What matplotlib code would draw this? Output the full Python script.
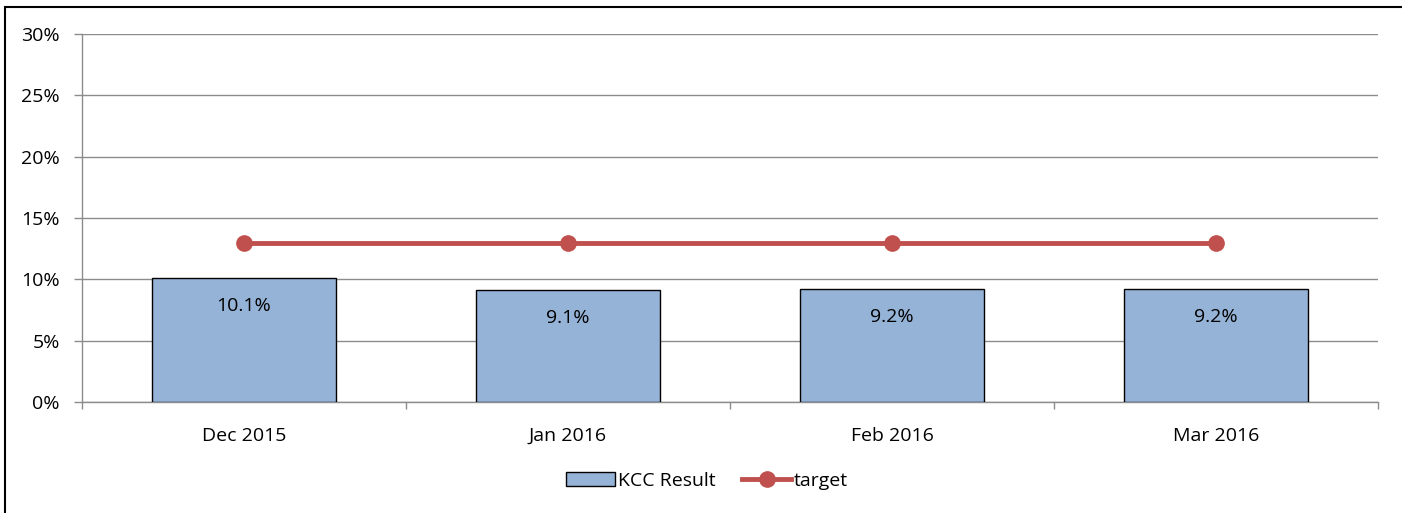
import matplotlib
matplotlib.use("Agg")
import matplotlib.pyplot as plt
from matplotlib.patches import Rectangle
from matplotlib.lines import Line2D
import numpy as np

# data
months = ["Dec 2015", "Jan 2016", "Feb 2016", "Mar 2016"]
kcc_result = [10.1, 9.1, 9.2, 9.2]
target = [13, 13, 13, 13]
y_ticks = [0, 5, 10, 15, 20, 25, 30]

CLR_BAR = "#95B3D7"
CLR_LINE = "#C0504D"
CLR_GRID = "#8C8C8C"
FS = 14

plt.rcParams["font.family"] = ["Open Sans", "DejaVu Sans"]

fig = plt.figure(figsize=(14.02, 5.13), dpi=100)
ax = fig.add_axes([82 / 1402, 111 / 513, 1296 / 1402, 368 / 513])

x = np.arange(len(months))
ax.bar(x, kcc_result, width=0.57, color=CLR_BAR, edgecolor="black",
       linewidth=1.0, zorder=3)
ax.plot(x, target, color=CLR_LINE, linewidth=3.5, marker="o",
        markersize=11, zorder=4)

for xi, v in zip(x, kcc_result):
    ax.annotate(f"{v:.1f}%", (xi, v), xytext=(0, -20), textcoords="offset points",
                ha="center", va="center", fontsize=FS, color="black", zorder=5)

ax.set_xlim(-0.5, len(months) - 0.5)
ax.set_ylim(0, 30)
ax.set_yticks(y_ticks)
ax.set_yticklabels([f"{t}%" for t in y_ticks], fontsize=FS)
ax.yaxis.grid(True, color=CLR_GRID, linewidth=1.0, zorder=0)
ax.set_axisbelow(True)

# category ticks between groups, labels centred under bars
ax.set_xticks(np.arange(-0.5, len(months), 1.0))
ax.set_xticklabels([])
ax.set_xticks(x, minor=True)
ax.set_xticklabels(months, minor=True, fontsize=FS, va="baseline")
ax.tick_params(axis="x", which="minor", length=0, pad=28)
ax.tick_params(axis="x", which="major", length=5, color=CLR_GRID, width=1)
ax.tick_params(axis="y", length=6, color=CLR_GRID, width=1, pad=10)

for side in ["top", "right"]:
    ax.spines[side].set_visible(False)
for side in ["left", "bottom"]:
    ax.spines[side].set_color(CLR_GRID)
    ax.spines[side].set_linewidth(1.0)

handles = [
    Rectangle((0, 0), 1, 1, facecolor=CLR_BAR, edgecolor="black", linewidth=1.0),
    Line2D([0], [0], color=CLR_LINE, linewidth=3.5, marker="o", markersize=11),
]
fig.legend(handles, ["KCC Result", "target"], loc="center",
           bbox_to_anchor=(707 / 1402, 1 - 481 / 513), ncol=2, frameon=False,
           fontsize=FS, handlelength=2.5, handletextpad=0.15, columnspacing=1.4)

# outer chart border (only left and top edges fall inside the image)
fig.patches.append(Rectangle((5 / 1402, -10 / 513), 1410 / 1402, 516 / 513,
                             transform=fig.transFigure, fill=False,
                             edgecolor="black", linewidth=1.5))

plt.savefig("out.png", dpi=100, facecolor="white")
plt.close()
